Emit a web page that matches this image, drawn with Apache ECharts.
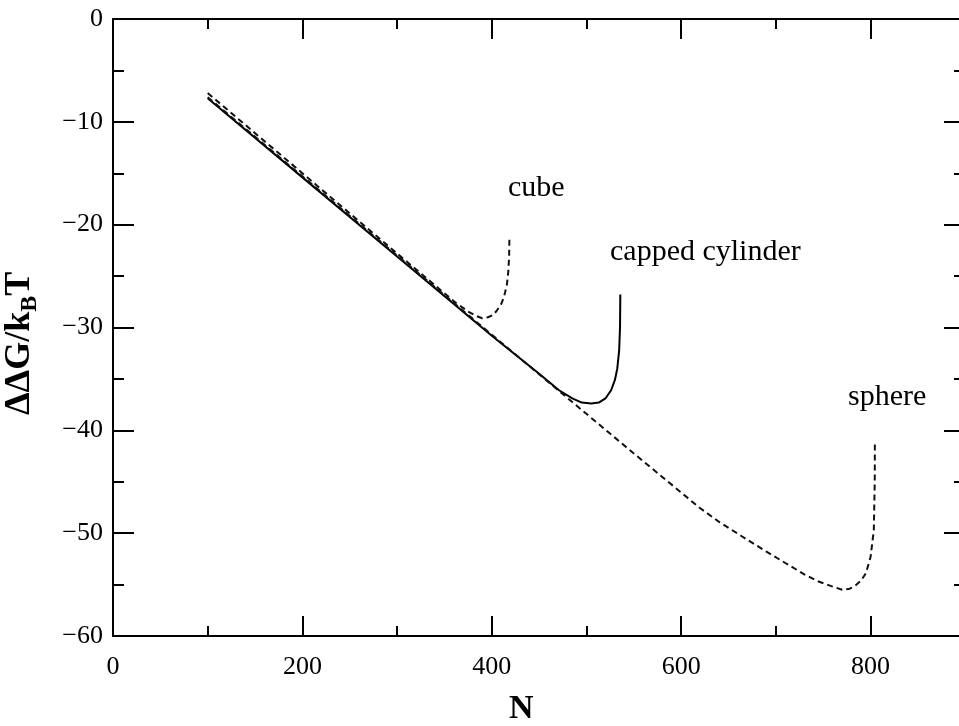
<!DOCTYPE html>
<html><head><meta charset="utf-8">
<script src="https://cdn.jsdelivr.net/npm/echarts@6/dist/echarts.min.js"></script>
<style>html,body{margin:0;padding:0;background:#fff}#c{width:959px;height:726px}</style>
</head><body><div id="c"></div>
<script>
// ---- data ----
const cubeN = [100,150,200,250,300,340,362,376,384,390,396,401,405,410,413,416,417.5,418.3,418.6];
const cubeG = [-7.2,-11.1,-15.0,-18.9,-22.8,-25.9,-27.6,-28.5,-28.9,-29.1,-29.0,-28.8,-28.4,-27.7,-27.0,-25.8,-24.5,-23.0,-21.3];
const cylN = [100,200,300,400,450,471,485,495,505,513,520,526,530,532.5,534.5,535.4,535.7];
const cylG = [-7.7,-15.4,-23.1,-30.8,-34.5,-36.1,-36.9,-37.3,-37.4,-37.3,-36.9,-36.1,-35.1,-34.0,-32.2,-30.0,-26.8];
const sphN = [100,200,300,400,485,550,619,640,664,690,710,730,745,760,770,778,784,790,795,800,803.4,804.4,804.5];
const sphG = [-7.6,-15.3,-23.0,-30.7,-37.25,-42.25,-47.5,-48.9,-50.3,-51.8,-52.9,-54.0,-54.7,-55.2,-55.5,-55.4,-55.1,-54.6,-53.9,-52.3,-49.7,-44.8,-41.0];
const labels = ['cube','capped cylinder','sphere'];
const xTitle = 'N';
const yTitle = '{a|\u0394\u0394G/k}{b|B}{a|T}';

const zip = (a,b) => a.map((v,i)=>[v,b[i]]);
const FF = '"Liberation Serif","Times New Roman",serif';
const black = '#000';

const tickStyle = {color:black, width:2};
function xAx(pos, showLabel){
  return {
    type:'value', gridIndex:0, position:pos, min:0, max:1000, interval:200,
    axisLine:{show:true, onZero:false, lineStyle:{color:black, width:2}},
    axisTick:{show:true, inside:true, length:20, lineStyle:tickStyle},
    minorTick:{show:true, splitNumber:2, length:10, lineStyle:tickStyle},
    splitLine:{show:false}, minorSplitLine:{show:false},
    axisLabel:{show:showLabel, fontFamily:FF, fontSize:26, color:black, margin:18, showMaxLabel:false}
  };
}
function yAx(grid, pos, showLabel){
  return {
    type:'value', gridIndex:grid, position:pos, min:-60, max:0, interval:10,
    axisLine:{show:true, onZero:false, lineStyle:{color:black, width:2}},
    axisTick:{show:true, inside:true, length:21, lineStyle:tickStyle},
    minorTick:{show:true, splitNumber:2, length:11, lineStyle:tickStyle},
    splitLine:{show:false}, minorSplitLine:{show:false},
    axisLabel:{show:showLabel, fontFamily:FF, fontSize:26, color:black, margin:10,
      formatter: v => v < 0 ? '\u2212' + (-v) : String(v)}
  };
}

const chart = echarts.init(document.getElementById('c'), null, {renderer:'canvas'});
chart.setOption({
  animation:false,
  backgroundColor:'#fff',
  grid:[
    {left:113, top:19, bottom:90, right:-101, containLabel:false, outerBoundsMode:'none'},
    {left:113, top:19, bottom:90, right:-6, containLabel:false, outerBoundsMode:'none'}
  ],
  xAxis:[ xAx('bottom', true), xAx('top', false),
    {type:'value', gridIndex:1, min:0, max:1, show:false} ],
  yAxis:[ yAx(0,'left',true), yAx(1,'right',false) ],
  series:[
    {type:'line', name:labels[0], xAxisIndex:0, yAxisIndex:0, data:zip(cubeN,cubeG), showSymbol:false, symbol:'none',
     lineStyle:{color:'#111', width:2, type:[6,4]}},
    {type:'line', name:labels[1], xAxisIndex:0, yAxisIndex:0, data:zip(cylN,cylG), showSymbol:false, symbol:'none',
     lineStyle:{color:'#000', width:2, type:'solid'}},
    {type:'line', name:labels[2], xAxisIndex:0, yAxisIndex:0, data:zip(sphN,sphG), showSymbol:false, symbol:'none',
     lineStyle:{color:'#111', width:2, type:[6,4]}}
  ],
  graphic:[
    {type:'text', left:508, top:173, style:{text:labels[0], fontFamily:FF, fontSize:30, fill:black}},
    {type:'text', left:610, top:237, style:{text:labels[1], fontFamily:FF, fontSize:30, fill:black}},
    {type:'text', left:848, top:382, style:{text:labels[2], fontFamily:FF, fontSize:30, fill:black}},
    {type:'text', left:509, top:692, style:{text:xTitle, fontFamily:FF, fontSize:34, fontWeight:'bold', fill:black}},
    {type:'text', x:42, y:415, rotation:Math.PI/2,
     style:{text:yTitle, align:'left', verticalAlign:'bottom',
       rich:{
         a:{fontFamily:FF, fontSize:36, fontWeight:'bold', fill:black, lineHeight:44},
         b:{fontFamily:FF, fontSize:24, fontWeight:'bold', fill:black, lineHeight:24, verticalAlign:'bottom'}
       }}}
  ]
});
</script></body></html>
